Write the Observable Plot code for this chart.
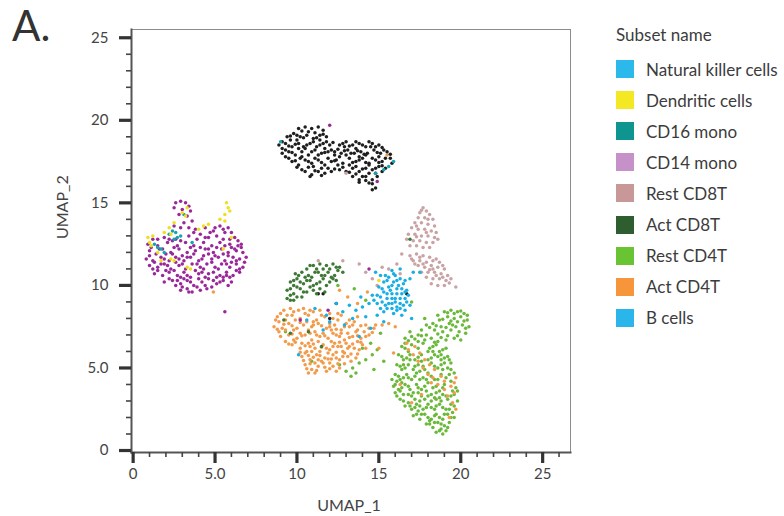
<!DOCTYPE html>
<html><head><meta charset="utf-8">
<script src="https://cdn.jsdelivr.net/npm/d3@7"></script>
<script src="https://cdn.jsdelivr.net/npm/@observablehq/plot@0.6"></script>
<style>
body{margin:0;background:#fff;font-family:Lato,"Open Sans",sans-serif;}
#wrap{position:relative;width:784px;height:516px;overflow:hidden;background:#fff;}
#chart{position:absolute;left:0;top:0;}
#panel{position:absolute;left:12px;top:0px;font-size:42px;line-height:50px;color:#333;}
#legend{position:absolute;left:0;top:0;color:#3c3c3c;font-size:17px;}
.lt{position:absolute;left:616px;top:24px;line-height:22px;white-space:nowrap;}
.li{position:absolute;left:616px;height:22px;display:flex;align-items:center;white-space:nowrap;}
.sw{width:18px;height:18px;margin-right:12px;flex:none;}
</style></head>
<body><div id="wrap"><div id="chart"></div><div id="panel">A.</div><div id="legend"></div></div>
<script>
// ---- categories ----
const subsets = ["Natural killer cells","Dendritic cells","CD16 mono","CD14 mono","Rest CD8T","Act CD8T","Rest CD4T","Act CD4T","B cells"];
const legendColors = ["#2bb8ea","#f4e824","#0f958f","#c690c8","#c89898","#2e5e30","#68c432","#f7953a","#2ab6ea"];
const dotColors = ["#1aaee6","#f0df1a","#17a3b1","#99299a","#c9a2a4","#3e7935","#6bb93b","#f39b4a","#1f1f1f"];
const legendTitle = "Subset name";
// ---- ticks ----
const xMajor = [0,5,10,15,20,25];
const xMajorLabels = ["0","5.0","10","15","20","25"];
const xMinor = [1,2,3,4,6,7,8,9,11,12,13,14,16,17,18,19,21,22,23,24,26];
const yMajor = [0,5,10,15,20,25];
const yMajorLabels = ["0","5.0","10","15","20","25"];
const yMinor = [1,2,3,4,6,7,8,9,11,12,13,14,16,17,18,19,21,22,23,24];
const xLabel = "UMAP_1", yLabel = "UMAP_2";
// ---- points (UMAP_1, UMAP_2 pairs) ----
const restCD4T = [19.0,8.4,19.4,8.5,19.8,8.4,20.2,8.3,19.2,8.1,19.6,8.0,20.0,8.1,20.4,7.9,18.7,7.9,18.3,7.7,18.8,7.5,19.3,7.7,19.7,7.5,20.1,7.6,20.5,7.5,17.9,7.6,18.4,7.3,18.9,7.2,19.4,7.3,19.9,7.2,20.3,7.1,17.6,7.3,17.4,7.0,17.9,7.0,19.6,6.8,20.0,6.7,18.6,8.2,17.8,8.0,
16.6,6.8,17.0,6.9,17.4,6.6,17.8,6.7,18.2,6.8,18.6,6.6,16.9,7.2,19.1,6.7,
16.4,6.3,16.8,6.0,17.4,6.2,17.7,6.5,18.1,6.2,18.5,6.4,18.9,6.1,16.6,6.5,18.3,6.0,
16.2,5.8,16.5,5.5,16.9,5.8,17.2,5.5,17.6,5.8,18.0,5.5,18.4,5.8,18.8,5.5,19.2,5.7,16.7,5.6,
16.1,5.2,16.4,4.9,16.8,5.2,17.1,4.9,17.4,5.2,17.8,4.9,18.2,5.3,18.6,5.0,19.0,5.3,19.4,4.9,16.6,5.0,17.6,5.4,19.3,5.5,
16.0,4.6,16.3,4.3,16.7,4.6,17.0,4.3,17.3,4.7,17.7,4.4,18.0,4.7,18.4,4.3,18.8,4.6,19.1,4.4,
15.9,3.9,16.2,3.7,16.6,4.0,16.9,3.7,17.3,4.0,17.6,3.7,18.0,4.1,18.3,3.8,18.7,3.6,19.0,4.0,19.7,3.8,16.4,4.1,17.9,3.6,
16.1,3.3,16.5,3.0,16.8,3.4,17.2,3.1,17.4,3.5,17.8,3.1,18.2,3.4,18.5,3.1,18.9,3.4,19.2,3.1,19.6,3.4,19.8,3.0,16.3,3.6,
16.6,2.7,17.0,2.5,17.3,2.8,17.7,2.5,18.0,2.8,18.4,2.5,18.7,2.8,19.1,2.5,19.4,2.8,18.2,3.0,
17.1,2.1,17.5,1.9,17.8,2.2,18.2,1.9,18.5,2.2,18.9,1.9,19.2,2.2,19.5,2.3,17.4,2.4,
17.9,1.6,18.3,1.4,18.6,1.7,19.0,1.5,19.3,1.7,18.5,1.1,18.9,1.0,19.1,1.2,
17.0,6.4,18.0,6.0,18.8,5.8,16.5,5.2,17.7,5.1,18.9,4.9,16.5,4.4,17.5,4.3,18.6,4.3,19.4,4.2,16.1,4.2,17.1,3.5,18.5,3.5,
16.3,3.1,17.6,3.3,18.7,3.2,19.4,3.3,16.9,2.7,18.2,2.6,19.3,2.5,17.6,2.2,18.7,2.0,19.6,2.0,18.1,1.6,18.8,1.3,19.8,3.6,19.6,4.7,15.8,4.3,16.0,3.5,
19.2,8.35,19.6,8.3,20.0,8.45,20.4,8.2,18.9,7.95,19.4,7.85,19.8,7.8,20.2,7.85,18.5,7.55,19.1,7.45,19.5,7.6,20.3,7.4,18.1,7.45,18.6,7.05,19.2,6.95,19.8,6.95,
16.8,6.65,17.2,6.75,17.6,6.95,18.4,6.55,18.8,6.85,16.6,6.2,18.3,6.3,18.7,6.0,19.1,6.2,16.4,5.7,16.9,5.5,17.4,5.65,18.2,5.6,18.6,5.7,19.0,5.6,19.4,5.3,
16.3,5.1,17.2,5.1,17.5,4.8,18.4,5.1,18.8,5.2,19.2,5.0,16.2,4.5,16.8,4.4,17.2,4.5,17.9,4.3,18.2,4.5,19.3,4.6,16.0,4.0,16.4,3.8,16.8,3.9,17.4,3.8,17.8,3.9,18.5,3.9,18.9,3.8,19.5,3.6,
16.5,3.4,17.0,3.3,17.5,3.0,18.0,3.3,18.4,3.2,18.8,3.0,19.1,3.3,16.8,2.9,17.2,2.6,17.5,2.7,17.9,2.6,18.5,2.7,18.9,2.6,19.6,2.7,17.3,2.2,18.0,2.0,18.4,2.1,19.0,2.2,19.4,2.0,18.1,1.8,18.4,1.7,18.8,1.6,19.2,1.4,18.7,1.2,
12.6,5.2,13.0,4.8,13.4,5.0,13.8,5.3,14.2,5.5,14.6,5.8,14.9,6.1,13.6,4.7,14.0,6.2,14.5,6.5,15.3,5.4,13.3,4.5,10.9,5.4,9.3,7.2,14.7,4.9,15.1,7.1,14.2,9.1,13.5,9.8,17.0,9.0,12.5,10.0];
const actCD4T = [9.2,8.5,9.8,8.4,10.4,8.6,11.0,8.4,
8.8,8.1,9.3,7.9,9.7,8.2,10.2,8.0,10.7,8.2,11.2,7.9,11.7,8.1,12.2,8.0,12.7,8.2,13.2,7.9,13.7,8.1,
8.6,7.5,9.1,7.4,9.5,7.7,10.0,7.4,10.4,7.6,10.9,7.5,11.3,7.7,11.8,7.4,12.3,7.6,12.7,7.3,13.2,7.5,13.7,7.3,14.2,7.6,14.7,7.4,8.9,7.2,11.1,7.2,
9.0,6.9,9.5,7.0,10.0,6.8,10.5,7.0,10.9,6.7,11.4,6.9,11.9,6.8,12.4,7.0,12.9,6.7,13.4,6.9,13.9,6.8,14.4,7.0,9.3,6.6,12.1,6.6,
9.7,6.4,10.2,6.2,10.7,6.5,11.1,6.2,11.6,6.4,12.0,6.1,12.5,6.3,13.0,6.5,13.5,6.2,14.0,6.4,10.9,6.0,12.8,6.0,
10.3,5.7,10.8,5.5,11.2,5.8,11.7,5.6,12.2,5.8,12.6,5.5,13.1,5.7,13.6,5.6,11.5,5.4,10.5,5.9,
10.5,5.2,10.9,4.9,11.3,5.1,11.8,4.8,12.2,5.1,12.6,5.0,11.6,5.3,10.7,4.7,
8.9,7.8,9.4,8.2,9.9,7.9,10.5,8.3,11.0,7.8,11.5,8.2,12.0,7.7,12.5,7.9,13.0,7.7,13.5,7.8,9.8,7.3,10.2,7.1,10.7,7.3,11.6,7.1,12.1,7.3,12.6,6.9,13.1,7.1,13.6,7.2,14.1,7.2,
9.8,6.7,10.3,6.5,10.8,6.3,11.3,6.6,11.8,6.2,12.3,6.5,12.7,6.3,13.2,6.3,13.7,6.6,10.6,6.0,11.4,6.0,11.9,5.9,12.4,5.6,12.9,5.9,13.3,5.4,11.1,5.3,12.0,5.3,12.4,4.8,11.1,4.7,
9.0,8.3,9.6,8.6,10.1,8.5,10.8,8.5,11.4,8.5,12.0,8.3,12.5,8.3,8.7,7.9,9.2,7.65,9.7,7.55,10.2,7.75,10.6,7.8,11.0,7.6,11.5,7.55,12.0,7.5,12.4,7.35,12.9,7.5,13.4,7.6,13.9,7.55,14.4,7.4,14.8,7.6,
8.8,7.35,9.3,7.3,9.7,7.05,10.3,6.95,10.8,7.1,11.2,7.0,11.7,6.95,12.2,7.1,12.7,7.1,13.2,6.85,13.7,6.95,14.2,6.9,14.6,7.15,
9.5,6.45,9.9,6.55,10.5,6.35,11.0,6.45,11.5,6.25,12.2,6.3,12.6,6.55,13.1,6.2,13.4,6.45,13.9,6.55,14.2,6.2,13.8,6.1,
10.2,5.95,10.7,5.75,11.0,5.65,11.4,5.75,11.9,5.55,12.4,5.95,12.8,5.7,13.3,5.85,13.7,5.85,10.4,5.45,10.8,5.25,11.3,5.5,11.7,5.05,12.1,5.55,12.5,5.25,12.9,5.25,10.6,4.95,11.2,4.85,12.0,4.95,
16.7,6.5,16.8,6.1,17.2,6.3,17.1,5.8,17.5,5.9,17.4,5.4,17.8,5.5,17.7,5.0,18.1,5.2,18.0,4.6,18.4,4.9,18.3,4.4,18.8,4.5,18.6,4.0,19.0,4.2,19.0,3.7,19.4,3.9,19.2,3.3,19.6,3.5,19.5,2.9,19.7,4.4,19.6,4.1,19.3,2.0,19.7,2.5,16.3,4.0,15.9,5.9,17.0,2.9,15.2,7.6,15.0,6.2,17.6,3.4,18.2,4.1,
13.7,8.9,14.3,9.6,13.1,9.3,12.6,9.7,16.0,7.5,15.6,7.7,4.9,9.6,15.5,17.9];
const bCells = [10.1,19.5,10.5,19.6,10.9,19.5,11.3,19.6,10.7,19.3,11.6,19.4,
9.4,19.0,9.8,19.2,10.2,19.0,10.6,19.1,11.0,18.9,11.4,19.1,11.8,19.0,9.6,18.8,
8.9,18.5,9.3,18.6,9.7,18.4,10.1,18.6,10.4,18.4,10.8,18.6,11.2,18.4,11.6,18.6,12.0,18.5,9.1,18.3,10.0,18.8,11.4,18.8,
9.1,18.0,9.5,18.1,9.9,17.9,10.3,18.1,10.7,17.9,11.1,18.2,11.5,18.0,11.9,18.1,12.3,17.9,9.3,17.8,10.5,18.3,11.7,18.3,
9.7,17.5,10.1,17.3,10.5,17.6,10.9,17.4,11.3,17.6,11.7,17.3,12.1,17.5,12.5,17.3,10.2,17.7,11.0,17.2,
10.5,16.9,10.9,16.7,11.3,16.9,11.7,16.8,12.1,16.9,
12.6,18.5,13.0,18.7,13.4,18.5,13.8,18.6,14.2,18.4,14.6,18.6,15.0,18.5,13.6,18.3,
12.3,18.1,12.7,18.0,13.1,18.2,13.5,18.0,13.9,18.1,14.3,18.0,14.7,18.2,15.1,18.0,15.5,18.1,12.9,18.4,14.5,18.4,
12.4,17.6,12.8,17.4,13.2,17.7,13.6,17.5,14.0,17.7,14.4,17.4,14.8,17.6,15.2,17.5,15.7,17.7,13.0,17.9,13.8,17.8,14.2,17.9,15.0,17.8,
12.6,17.0,13.0,16.9,13.4,17.1,13.8,16.9,14.2,17.1,14.6,17.0,15.0,17.2,15.4,17.1,13.2,17.3,14.4,17.3,
13.4,16.6,13.8,16.4,14.2,16.6,14.6,16.4,14.9,16.6,14.4,16.2,14.8,15.9,14.6,15.8,
10.3,19.35,11.1,19.25,9.6,19.05,10.0,19.1,10.4,18.95,11.2,18.95,11.6,19.15,9.1,18.7,9.5,18.45,9.9,18.55,10.6,18.5,11.0,18.7,11.4,18.5,11.8,18.7,12.2,18.65,
9.3,18.2,9.7,18.05,10.1,18.3,10.9,18.1,11.3,17.9,11.7,18.05,12.1,18.2,9.5,17.7,9.9,17.55,10.3,17.8,10.7,17.5,11.1,17.7,11.5,17.45,11.9,17.7,12.3,17.55,
10.0,17.15,10.3,17.0,10.7,17.15,11.1,16.95,11.5,17.1,11.9,17.1,12.3,17.05,10.8,16.6,11.5,16.65,
12.8,18.6,13.2,18.45,13.6,18.7,14.0,18.5,14.4,18.7,14.8,18.4,15.2,18.35,12.5,18.25,12.9,18.15,13.3,18.0,13.7,18.15,14.1,17.95,14.9,18.05,15.3,18.2,15.7,17.95,
12.6,17.8,13.4,17.45,13.8,17.6,14.2,17.45,14.6,17.7,15.0,17.45,15.4,17.7,15.8,17.4,12.8,17.15,13.6,17.2,14.0,17.05,14.8,17.1,15.2,17.25,
13.2,16.85,13.6,16.75,14.0,16.6,14.4,16.8,14.8,16.8,15.2,16.9,13.8,16.25,14.2,16.35,14.6,16.15,
11.3,9.5,11.6,9.5,12.4,8.9,12.0,8.0,16.7,9.5];
const cd14Mono = [3.8,13.4,4.4,13.5,4.9,13.3,5.3,13.6,5.8,13.5,6.0,13.2,4.1,13.1,5.6,13.2,
1.2,12.8,1.9,12.9,2.6,12.8,3.4,13.0,4.6,12.9,5.1,13.0,6.2,12.9,3.9,12.8,5.5,12.8,
0.9,12.5,1.5,12.4,2.1,12.6,2.7,12.4,3.2,12.6,3.7,12.4,4.3,12.6,4.8,12.4,5.3,12.6,5.9,12.5,6.4,12.4,2.4,12.7,4.1,12.3,
1.0,12.1,1.4,11.9,1.8,12.2,2.3,12.0,2.8,12.2,3.3,12.0,3.8,12.1,4.4,12.2,4.9,12.0,5.4,12.2,5.8,12.0,6.3,12.1,6.7,12.0,2.0,11.9,3.0,11.8,4.6,11.9,5.1,12.3,6.0,12.3,
0.8,11.6,1.2,11.5,1.7,11.7,2.2,11.5,2.6,11.7,3.1,11.5,3.5,11.7,4.0,11.5,4.3,11.8,4.8,11.6,5.2,11.7,5.6,11.5,6.1,11.7,6.5,11.6,6.9,11.7,2.4,11.9,3.7,11.9,5.5,11.9,
1.0,11.2,1.5,11.1,1.9,11.3,2.3,11.0,2.8,11.2,3.2,11.0,3.6,11.3,4.1,11.1,4.5,11.3,5.0,11.1,5.4,11.3,5.9,11.1,6.3,11.3,6.7,11.1,1.3,11.4,2.6,11.4,4.8,11.4,6.0,11.4,
1.3,10.7,1.8,10.6,2.2,10.8,2.7,10.6,3.1,10.8,3.5,10.5,4.0,10.7,4.4,10.5,4.9,10.8,5.3,10.6,5.7,10.8,6.1,10.6,6.5,10.8,2.0,10.9,3.8,10.9,5.5,10.5,
1.9,10.2,2.4,10.3,2.9,10.1,3.3,10.3,3.7,10.0,4.2,10.2,4.6,10.4,5.1,10.1,5.5,10.3,6.0,10.2,2.6,10.0,4.0,10.4,5.8,10.0,
2.9,9.7,3.3,9.8,3.6,9.6,4.1,9.7,4.5,9.8,3.0,9.9,4.8,9.9,
2.6,15.0,2.9,15.1,3.2,15.0,3.4,14.8,2.5,14.7,3.0,14.6,3.5,14.5,2.8,14.3,3.3,14.2,3.6,13.9,3.1,13.8,2.9,13.5,3.4,13.5,2.5,13.6,
1.1,12.3,1.6,12.2,2.5,12.3,3.5,12.3,4.6,12.2,5.6,12.4,6.2,12.2,6.6,12.3,
1.0,11.8,1.9,11.6,2.8,11.6,3.3,11.7,4.2,11.6,5.0,11.8,5.8,11.8,6.3,11.5,6.8,11.4,
1.2,11.0,1.7,11.3,2.1,11.2,3.0,11.3,3.9,11.3,4.3,11.0,5.2,11.0,5.7,11.3,6.5,11.0,
1.5,10.9,2.5,10.9,2.9,10.5,3.3,10.6,4.2,10.8,4.6,10.7,5.1,10.5,5.9,10.5,6.3,10.9,
2.2,10.4,2.7,10.3,3.1,10.4,3.5,10.2,4.4,10.0,4.9,10.3,5.3,10.2,5.7,10.6,3.9,9.9,3.4,9.6,
4.4,12.9,3.7,13.2,5.0,13.5,5.5,13.4,4.7,13.2,1.5,12.8,2.2,12.8,2.9,12.7,5.9,12.8,6.4,12.7,6.6,12.5,
5.6,8.4,12.0,19.7,14.9,16.3,14.4,11.0,10.2,7.9,11.9,8.5];
const restCD8T = [17.7,14.7,17.9,14.5,17.5,14.4,18.1,14.3,17.4,14.1,17.8,14.1,18.3,14.0,17.2,13.8,17.6,13.8,18.0,13.7,18.4,13.6,17.0,13.5,17.4,13.4,17.8,13.4,18.2,13.3,18.5,13.2,
16.8,13.1,17.2,13.1,17.6,13.0,18.0,13.0,18.4,12.9,16.7,12.8,17.1,12.7,17.5,12.7,17.9,12.6,18.3,12.6,16.9,12.4,17.3,12.4,17.7,12.3,18.1,12.3,17.6,14.55,18.0,14.0,17.3,13.6,17.9,13.2,17.3,12.95,18.6,12.8,
16.9,11.8,17.3,11.9,17.7,11.8,18.1,11.7,17.1,11.5,17.5,11.5,17.9,11.4,18.3,11.5,18.7,11.4,17.4,11.2,17.8,11.1,18.2,11.2,18.6,11.1,19.0,11.0,17.6,10.8,18.0,10.8,18.4,10.8,18.8,10.7,19.2,10.6,
17.9,10.5,18.3,10.4,18.7,10.4,19.1,10.3,19.4,10.4,18.2,10.1,18.6,10.0,19.0,10.0,19.7,9.9,18.5,11.6,18.9,11.2,17.7,11.3,18.1,10.95,18.5,10.6,18.9,10.5,17.0,11.6,17.5,11.7,18.3,11.0,19.3,10.15,17.2,11.3,
15.6,11.0,16.1,11.3,16.3,10.7,15.2,11.1,14.6,10.4,14.9,10.0,13.0,16.8,11.3,11.5,12.8,11.5,13.8,11.3,14.2,10.8,16.4,11.9];
const actCD8T = [10.6,11.0,11.0,11.2,11.4,11.3,11.8,11.2,12.2,11.3,12.6,11.1,11.2,11.0,12.0,11.0,
9.9,10.7,10.3,10.8,10.7,10.6,11.1,10.8,11.5,10.6,11.9,10.8,12.3,10.6,12.8,10.8,10.5,10.5,12.5,10.9,
9.6,10.2,10.0,10.4,10.4,10.1,10.8,10.3,11.2,10.1,11.6,10.4,12.0,10.2,12.4,10.3,9.8,10.0,11.0,10.0,
9.4,9.7,9.8,9.5,10.2,9.8,10.6,9.6,11.0,9.7,11.4,9.8,10.0,9.9,11.7,9.6,
9.4,9.2,9.8,9.1,10.3,9.3,9.6,9.4,
10.8,11.2,11.6,11.0,12.4,11.1,10.1,10.6,10.9,10.5,11.3,10.8,11.7,10.6,12.1,10.5,9.8,10.3,10.2,10.2,10.6,10.3,11.4,10.2,11.8,10.0,12.2,10.4,9.6,9.8,10.4,9.6,10.8,9.9,11.2,9.5,9.6,9.1,10.0,9.3,
9.6,7.1,10.7,7.2,11.5,6.3,9.2,7.9,16.9,12.8];
const nkCells = [15.8,10.9,16.0,10.6,15.6,10.5,16.3,10.4,15.3,10.2,15.9,10.2,16.5,10.1,15.0,9.9,15.6,9.9,16.1,9.8,16.7,9.7,15.3,9.6,15.8,9.5,16.4,9.5,14.9,9.4,15.5,9.2,16.0,9.2,16.6,9.2,15.2,9.0,15.8,8.9,16.3,8.9,16.9,8.8,15.5,8.6,16.1,8.5,16.6,8.5,15.9,8.3,16.4,8.2,16.2,10.0,15.7,9.7,16.0,9.0,15.4,8.8,16.8,9.4,16.5,8.8,14.7,9.1,14.4,8.9,15.1,8.6,
15.9,10.7,15.5,10.3,16.1,10.3,15.2,9.8,15.8,10.0,16.4,9.8,15.5,9.5,16.1,9.5,16.6,9.6,15.1,9.3,15.8,9.2,16.3,9.2,15.6,8.9,16.1,8.7,16.7,9.0,15.3,8.4,15.8,8.6,16.3,8.6,14.9,8.9,14.6,9.4,15.4,10.6,16.6,10.3,
14.0,8.7,13.6,8.5,13.2,8.8,12.8,8.4,13.9,9.3,12.4,8.9,11.8,8.2,13.4,8.0,14.2,8.1,12.0,7.8,14.9,8.2,16.9,10.4,14.8,10.8,15.3,7.8,17.0,8.0,10.1,5.8,11.6,7.3,13.8,6.9,10.6,7.9,12.9,7.6,14.5,7.4,15.1,10.6,16.3,11.0,11.1,8.6,17.1,10.8,17.5,10.8];
const cd16Mono = [1.3,12.5,1.5,12.3,1.7,12.2,2.2,13.1,2.4,13.3,2.6,13.2,2.7,12.9,2.5,12.8,3.1,14.3,3.6,12.6,1.9,12.0,2.9,13.0,9.0,18.7,15.9,17.5,15.6,17.2,14.8,16.8,15.3,17.0];
const dendritic = [0.9,12.9,1.0,12.6,1.2,13.0,1.1,12.4,1.9,13.2,2.2,13.5,2.5,13.8,2.3,13.1,3.0,14.4,3.3,14.7,3.2,14.2,4.0,13.4,4.3,13.6,4.6,13.7,5.3,14.0,5.6,14.3,5.7,15.0,5.8,14.7,5.9,14.5,5.6,13.9,6.0,12.9,1.5,12.0,2.3,11.6,2.5,11.5,3.3,11.1,3.5,11.0,5.5,12.2,1.7,11.5,15.0,10.3];

function rows(arr, group){const out=[];for(let i=0;i+1<arr.length;i+=2)out.push({x:arr[i],y:arr[i+1],group});return out;}
const layers = [
  rows(restCD4T,"Rest CD4T"), rows(actCD4T,"Act CD4T"), rows(bCells,"B cells"), rows(cd14Mono,"CD14 mono"),
  rows(restCD8T,"Rest CD8T"), rows(actCD8T,"Act CD8T"), rows(nkCells,"Natural killer cells"),
  rows(cd16Mono,"CD16 mono"), rows(dendritic,"Dendritic cells")
];
const data = layers.flat();

const fmt = (ticks, labels) => d => labels[ticks.indexOf(d)];
const chart = Plot.plot({
  width: 600, height: 516,
  marginLeft: 131, marginRight: 30, marginTop: 29, marginBottom: 64,
  x: {domain: [-0.1, 26.7]},
  y: {domain: [-0.12, 25.5]},
  color: {domain: subsets, range: dotColors},
  style: {fontFamily: "Lato, 'Open Sans', sans-serif", fontSize: "15px", color: "#444", background: "white"},
  marks: [
    Plot.frame({stroke: "#8c8c8c", strokeWidth: 1}),
    Plot.dot(data, {x: "x", y: "y", fill: "group", r: 1.75}),
    Plot.frame({anchor: "left", stroke: "#555", strokeWidth: 2}),
    Plot.frame({anchor: "bottom", stroke: "#555", strokeWidth: 2}),
    Plot.axisX(xMinor, {tickSize: 5, strokeWidth: 1.6, text: null, label: null, stroke: "#444"}),
    Plot.axisX(xMajor, {tickSize: 11, strokeWidth: 3.2, tickPadding: 5, tickFormat: fmt(xMajor, xMajorLabels), label: null, fontSize: 15, stroke: "#333"}),
    Plot.axisY(yMinor, {tickSize: 5, strokeWidth: 1.6, text: null, label: null, stroke: "#444"}),
    Plot.axisY(yMajor, {tickSize: 12, strokeWidth: 3.2, tickPadding: 11, tickFormat: fmt(yMajor, yMajorLabels), label: null, fontSize: 15, stroke: "#333"}),
    Plot.text([xLabel], {text: d => d, frameAnchor: "bottom", dy: 53, dx: -2, fontSize: 16, lineAnchor: "middle", fill: "#444"}),
    Plot.text([yLabel], {text: d => d, frameAnchor: "left", dx: -68.5, dy: -2, rotate: -90, fontSize: 16, lineAnchor: "middle", fill: "#444"})
  ]
});
document.getElementById("chart").appendChild(chart);

const leg = document.getElementById("legend");
const t = document.createElement("div"); t.className = "lt"; t.textContent = legendTitle; leg.appendChild(t);
subsets.forEach((s, i) => {
  const d = document.createElement("div"); d.className = "li"; d.style.top = (58 + 31.1 * i) + "px";
  const sw = document.createElement("span"); sw.className = "sw"; sw.style.background = legendColors[i];
  const tx = document.createElement("span"); tx.textContent = s;
  d.appendChild(sw); d.appendChild(tx); leg.appendChild(d);
});
</script></body></html>
